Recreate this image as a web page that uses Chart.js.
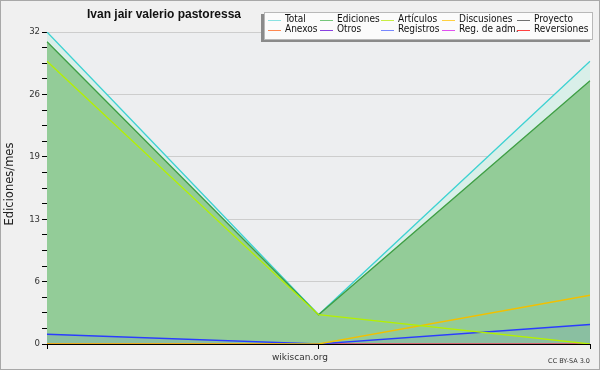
<!DOCTYPE html>
<html>
<head>
<meta charset="utf-8">
<script src="https://cdn.jsdelivr.net/npm/chart.js@4.4.1/dist/chart.umd.min.js"></script>
<style>
html,body{margin:0;padding:0;background:#f0f0f0;}
canvas{display:block;}
</style>
</head>
<body>
<canvas id="c" width="600" height="370"></canvas>
<script>
// ---- data ----
const categories = ['Mes 1', 'Mes 2', 'Mes 3'];
const total       = [32, 3, 29];
const ediciones   = [31, 3, 27];
const articulos   = [29, 3, 0];
const discusiones = [0, 0, 5];
const proyecto    = [0, 0, 0];
const anexos      = [0, 0, 0];
const otros       = [0, 0, 0];
const registros   = [1, 0, 2];
const regAdm      = [0, 0, 0];
const reversiones = [0, 0, 0];
const yMajorTicks = [0, 6.4, 12.8, 19.2, 25.6, 32];
const yTickLabels = ['0', '6', '13', '19', '26', '32'];
const chartTitle = 'Ivan jair valerio pastoressa';
const yTitle = 'Ediciones/mes';
const xTitle = 'wikiscan.org';
const credit = 'CC BY-SA 3.0';

function ds(label, data, color, legendColor, order, extra) {
  return Object.assign({
    label: label, data: data, borderColor: color, legendColor: legendColor,
    borderWidth: 1.3, pointRadius: 0, fill: false, tension: 0, order: order
  }, extra || {});
}

const datasets = [
  ds('Total', total, '#3fd2d2', '#8ae2e2', 20, {fill: 'origin', backgroundColor: '#d9efe9'}),
  ds('Ediciones', ediciones, '#3f9f45', '#74c67a', 19, {fill: 'origin', backgroundColor: '#93cc98'}),
  ds('Artículos', articulos, '#b4f000', '#c8ee44', 12),
  ds('Discusiones', discusiones, '#f2c000', '#ffd040', 13),
  ds('Proyecto', proyecto, '#606060', '#707070', 17),
  ds('Anexos', anexos, '#ff7a3a', '#ff8850', 16),
  ds('Otros', otros, '#7a2ee0', '#8840e0', 16),
  ds('Registros', registros, '#2a3cff', '#7888ff', 14, {fill: 'origin', backgroundColor: 'rgba(60,70,255,0.09)'}),
  ds('Reg. de adm.', regAdm, '#e040e0', '#e050f0', 16),
  ds('Reversiones', reversiones, '#ff3030', '#ff4040', 16)
];

const minorStep = (yMajorTicks[1] - yMajorTicks[0]) / 4;
const COND = '"DejaVu Sans Condensed", "DejaVu Sans"';

const decor = {
  id: 'decor',
  beforeDraw(chart) {
    const ctx = chart.ctx, a = chart.chartArea;
    ctx.save();
    ctx.fillStyle = '#f0f0f0';
    ctx.fillRect(0, 0, chart.width, chart.height);
    ctx.strokeStyle = '#a8a8a8';
    ctx.lineWidth = 1;
    ctx.strokeRect(0.5, 0.5, chart.width - 1, chart.height - 1);
    ctx.fillStyle = '#edeef0';
    ctx.fillRect(a.left, a.top, a.right - a.left, a.bottom - a.top);
    ctx.restore();
  },
  afterDraw(chart) {
    const ctx = chart.ctx;
    ctx.save();
    // title
    ctx.fillStyle = '#111';
    ctx.font = 'bold 12px "Liberation Sans", "DejaVu Sans"';
    ctx.textAlign = 'center';
    ctx.textBaseline = 'middle';
    ctx.fillText(chartTitle, 164, 15);
    // y title
    ctx.save();
    ctx.translate(10, 184);
    ctx.rotate(-Math.PI / 2);
    ctx.font = '11.5px "DejaVu Sans"';
    ctx.fillStyle = '#222';
    ctx.fillText(yTitle, 0, 0);
    ctx.restore();
    // x title
    ctx.font = '9px "DejaVu Sans"';
    ctx.fillStyle = '#333';
    ctx.fillText(xTitle, 300, 358);
    // credit
    ctx.font = '6.5px "DejaVu Sans"';
    ctx.textAlign = 'right';
    ctx.fillText(credit, 590, 361);
    // legend
    ctx.fillStyle = '#8a8a8a';
    ctx.fillRect(261, 14, 329, 28);
    ctx.fillStyle = '#fbfbfb';
    ctx.fillRect(264, 12, 329, 28);
    ctx.strokeStyle = '#b8b8b8';
    ctx.lineWidth = 1;
    ctx.strokeRect(264.5, 12.5, 328, 27);
    const colX = [268, 320, 381, 442, 517];
    const rowY = [19.5, 29.5];
    ctx.font = '10px ' + COND;
    ctx.textAlign = 'left';
    chart.data.datasets.forEach((d, i) => {
      const r = Math.floor(i / 5), c = i % 5;
      const x = colX[c], y = rowY[r];
      ctx.strokeStyle = d.legendColor;
      ctx.lineWidth = 1;
      ctx.beginPath();
      ctx.moveTo(x, Math.round(y) + 0.5);
      ctx.lineTo(x + 13, Math.round(y) + 0.5);
      ctx.stroke();
      ctx.fillStyle = '#111';
      ctx.fillText(d.label, x + 17, y);
    });
    ctx.restore();
  }
};

new Chart(document.getElementById('c'), {
  type: 'line',
  data: {labels: categories, datasets: datasets},
  options: {
    responsive: false,
    animation: false,
    devicePixelRatio: 1,
    layout: {padding: {top: 32, left: 0, right: 10, bottom: 0}},
    plugins: {legend: {display: false}, tooltip: {enabled: false}, title: {display: false}},
    scales: {
      x: {
        type: 'category',
        offset: false,
        z: 1,
        afterFit(s) { s.height = 26; },
        ticks: {display: false},
        grid: {drawOnChartArea: false, color: '#000', tickColor: '#000', tickLength: 5},
        border: {color: '#000', width: 1}
      },
      y: {
        min: 0,
        max: yMajorTicks[yMajorTicks.length - 1],
        afterFit(s) { s.width = 47; },
        afterBuildTicks(s) {
          const t = [];
          for (let i = 0; i * minorStep <= s.max + 1e-9; i++) t.push({value: +(i * minorStep).toFixed(4)});
          s.ticks = t;
        },
        ticks: {
          autoSkip: false,
          padding: 2,
          color: '#333',
          font: {family: COND, size: 9.5},
          callback(v) {
            const k = yMajorTicks.findIndex(m => Math.abs(m - v) < 1e-6);
            return k >= 0 ? yTickLabels[k] : '';
          }
        },
        grid: {
          color(ctx) {
            const v = ctx.tick ? ctx.tick.value : 0;
            return yMajorTicks.some(m => Math.abs(m - v) < 1e-6) ? '#cdcdcd' : 'rgba(0,0,0,0)';
          },
          tickColor: '#000',
          tickLength: 5
        },
        border: {color: '#000', width: 1}
      }
    }
  },
  plugins: [decor]
});
</script>
</body>
</html>
